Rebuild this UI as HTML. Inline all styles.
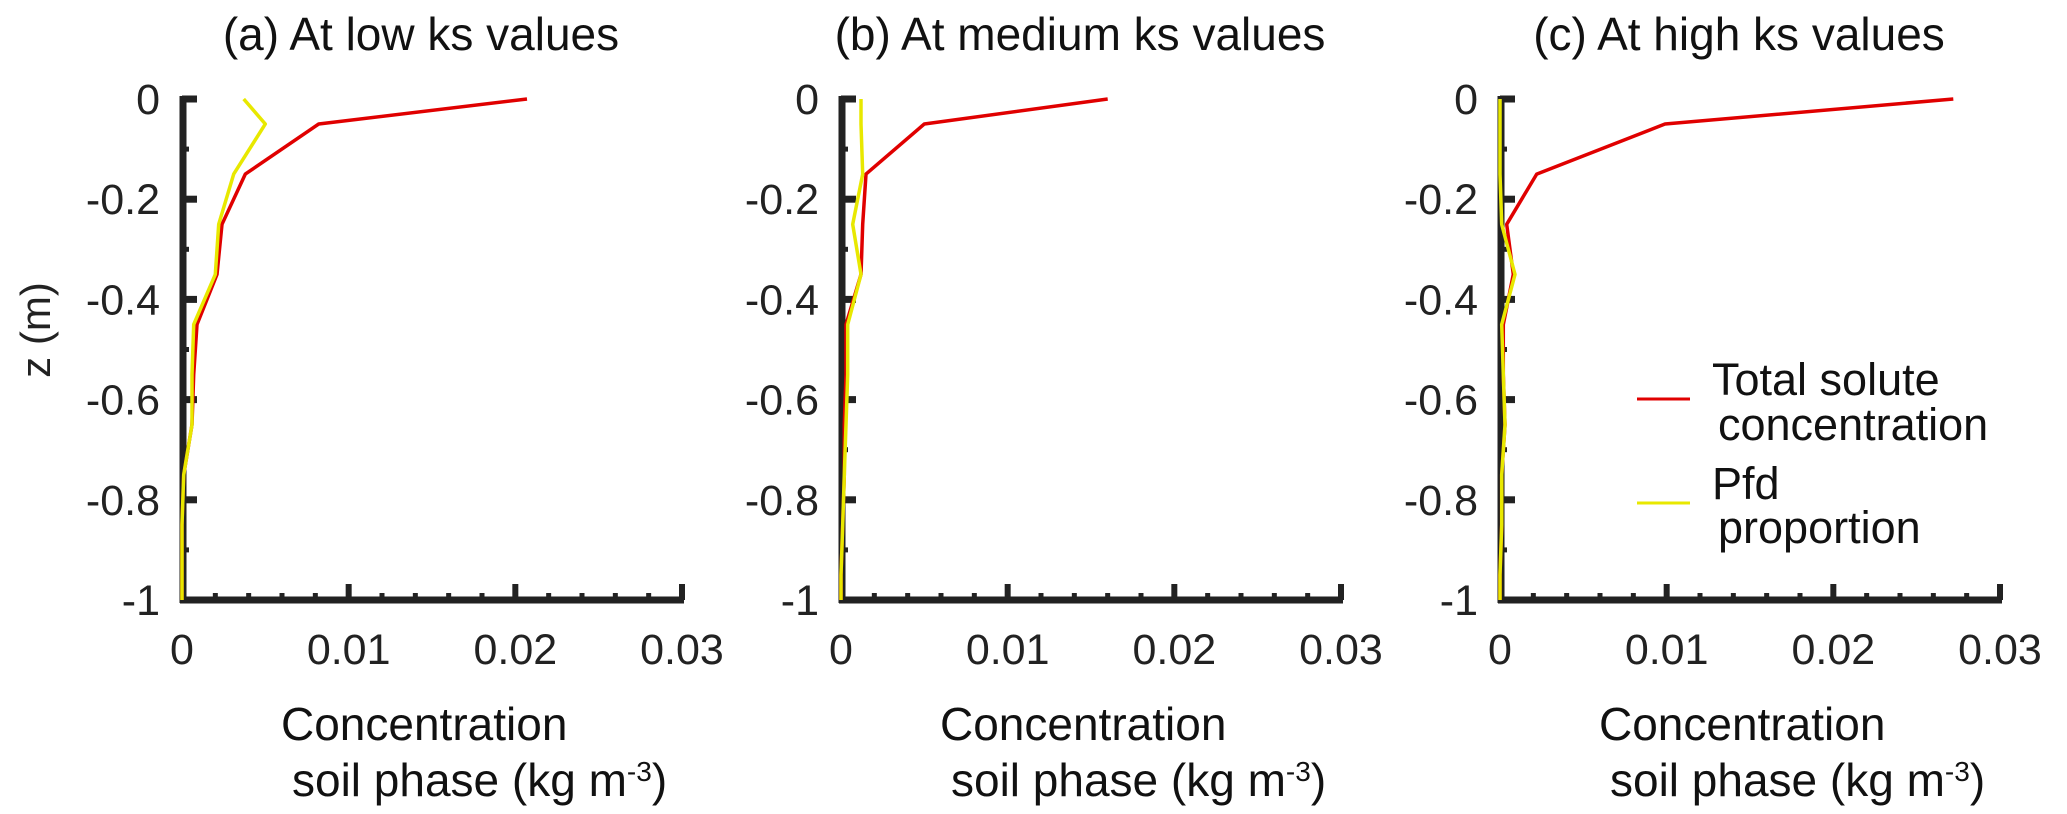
<!DOCTYPE html>
<html><head><meta charset="utf-8"><style>
html,body{margin:0;padding:0;background:#fff;}
svg{display:block;font-family:"Liberation Sans",sans-serif;}
</style></head><body>
<svg id="chart" width="2067" height="814" viewBox="0 0 2067 814" xmlns="http://www.w3.org/2000/svg">
<text x="0" y="0" font-size="42" fill="#222" text-anchor="middle" transform="translate(50,330) rotate(-90)">z (m)</text>
<g id="legend">
<line x1="1637" y1="399" x2="1690" y2="399" stroke="#e00000" stroke-width="3"/>
<text x="1712" y="395" font-size="45" fill="#111">Total solute</text>
<text x="1718" y="440" font-size="45" fill="#111">concentration</text>
<line x1="1637" y1="503" x2="1690" y2="503" stroke="#e8e800" stroke-width="3"/>
<text x="1712" y="499" font-size="45" fill="#111">Pfd</text>
<text x="1718" y="543" font-size="45" fill="#111">proportion</text>
</g>
</svg>
<script>
const depths = [0, -0.05, -0.15, -0.25, -0.35, -0.45, -0.55, -0.65, -0.75, -0.85, -0.95, -1];
const panelTitles = ["(a) At low ks values", "(b) At medium ks values", "(c) At high ks values"];
const totalA = [0.0207, 0.0082, 0.0038, 0.0024, 0.0021, 0.0009, 0.0007, 0.0006, 0.0001, 0, 0, 0];
const pfdA   = [0.0037, 0.0050, 0.0031, 0.0022, 0.0020, 0.0007, 0.0006, 0.0006, 0.0001, 0, 0, 0];
const totalB = [0.0160, 0.0050, 0.0015, 0.0013, 0.0012, 0.0003, 0.0003, 0.0002, 0.0002, 0.0001, 0, 0];
const pfdB   = [0.0012, 0.0012, 0.0013, 0.0007, 0.0012, 0.0004, 0.0004, 0.0003, 0.0002, 0.0001, 0, 0];
const totalC = [0.0272, 0.0099, 0.0022, 0.0004, 0.0008, 0.0002, 0.0002, 0.0003, 0.0001, 0.0001, 0, 0];
const pfdC   = [0.0000, 0.0000, 0.0000, 0.0001, 0.0009, 0.0001, 0.0002, 0.0003, 0.0001, 0.0001, 0, 0];
const xTicks = [0, 0.01, 0.02, 0.03];
const xTickLabels = ["0", "0.01", "0.02", "0.03"];
const yTicks = [0, -0.2, -0.4, -0.6, -0.8, -1];
const yTickLabels = ["0", "-0.2", "-0.4", "-0.6", "-0.8", "-1"];

const svg = document.getElementById('chart');
const NS = 'http://www.w3.org/2000/svg';
const panelX0 = [182, 841, 1500];
const plotW = 500, yTop = 99, yBot = 600;
function mk(tag, attrs){const e=document.createElementNS(NS,tag);for(const k in attrs)e.setAttribute(k,attrs[k]);svg.appendChild(e);return e;}
function yScale(z){return yTop + (0 - z) / 1 * (yBot - yTop);}
const series = [[totalA,pfdA],[totalB,pfdB],[totalC,pfdC]];
const letters = ['a','b','c'];

panelTitles.forEach((t,p)=>{
  const x0 = panelX0[p];
  const xScale = v => x0 + v / 0.03 * plotW;
  const title = mk('text',{x: x0 + 239, y: 50, 'font-size': 46, fill:'#111', 'text-anchor':'middle'});
  title.textContent = t;
  
  
  const ya = mk('line',{x1:x0+1,y1:yTop-3,x2:x0+1,y2:yBot+3,stroke:'#222','stroke-width':7});
  
  
  const xa = mk('line',{x1:x0-2,y1:yBot,x2:xScale(0.03)+2,y2:yBot,stroke:'#222','stroke-width':7});
  
  
  for(let i=0;i<=10;i++){
    const z=-i/10, y=yScale(z), major=(i%2===0);
    const tk = mk('line',{x1:x0,y1:y,x2:x0+(major?15:7),y2:y,stroke:'#222','stroke-width':major?7:5});
    
    
  }
  yTicks.forEach((z,i)=>{
    const lb = mk('text',{x:x0-22,y:yScale(z)+15,'font-size':43,fill:'#222','text-anchor':'end'});
    lb.textContent = yTickLabels[i];
    
    
  });
  for(let i=1;i<=15;i++){
    const v=i*0.002, x=xScale(v), major=(i%5===0);
    const tk = mk('line',{x1:x,y1:yBot,x2:x,y2:yBot-(major?16:7),stroke:'#222','stroke-width':major?6:5});
    
    
  }
  xTicks.forEach((v,i)=>{
    const lb = mk('text',{x:xScale(v),y:664,'font-size':43,fill:'#222','text-anchor':'middle'});
    lb.textContent = xTickLabels[i];
    
    
  });
  const l1 = mk('text',{x:x0+99,y:740,'font-size':46,fill:'#111'});
  l1.textContent = 'Concentration';
  
  
  const l2 = mk('text',{x:x0+110,y:796,'font-size':46,fill:'#111'});
  l2.innerHTML = 'soil phase (kg m<tspan dy="-15" font-size="28">-3</tspan><tspan dy="15">)</tspan>';
  
  
  const [tot,pfd] = series[p];
  const pts = arr => arr.map((v,i)=>xScale(v).toFixed(1)+','+yScale(depths[i]).toFixed(1)).join(' ');
  const r = mk('polyline',{points:pts(tot),fill:'none',stroke:'#e00000','stroke-width':3.5,'stroke-linejoin':'round'});
  
  
  const yl = mk('polyline',{points:pts(pfd),fill:'none',stroke:'#e8e800','stroke-width':3.5,'stroke-linejoin':'round'});
  
  
});
</script>
</body></html>
